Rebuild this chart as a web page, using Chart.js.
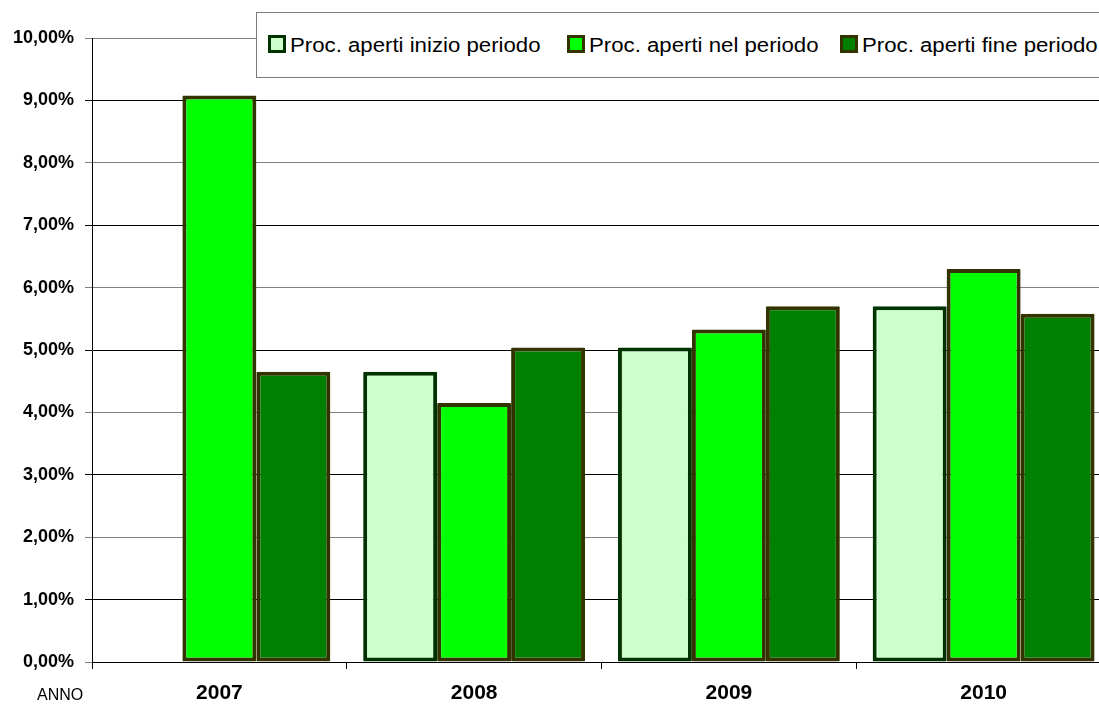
<!DOCTYPE html>
<html>
<head>
<meta charset="utf-8">
<script src="https://cdn.jsdelivr.net/npm/chart.js@4"></script>
<style>
  html, body { margin: 0; padding: 0; background: #fff; overflow: hidden; width: 1099px; height: 706px; }
  #wrap { position: absolute; left: 0; top: 0; width: 1112px; height: 706px; }
  #legend { position: absolute; left: 256px; top: 12px; width: 880px; height: 66px; border: 1px solid #7a7a7a; background: #fff; box-sizing: border-box; }
  .mk { position: absolute; top: 22px; width: 18px; height: 18px; box-sizing: border-box; border: 3px solid #333300; }
  .tx { position: absolute; top: 21px; font-family: "Liberation Sans", Arial, sans-serif; font-size: 20px; line-height: 22px; color: #000; white-space: nowrap; transform: scaleX(1.11); transform-origin: 0 0; }
  #anno { position: absolute; left: 37px; top: 685px; font-family: "Liberation Sans", Arial, sans-serif; font-size: 16px; line-height: 20px; color: #000; }
</style>
</head>
<body>
<div id="wrap"><canvas id="c" width="1112" height="706"></canvas></div>
<div id="legend"></div>
<div id="anno">ANNO</div>
<script>
const categories = ['2007', '2008', '2009', '2010'];
const seriesNames = ['Proc. aperti inizio periodo', 'Proc. aperti nel periodo', 'Proc. aperti fine periodo'];
const inizioPeriodo = [null, 4.65, 5.04, 5.70];
const nelPeriodo = [9.08, 4.15, 5.33, 6.30];
const finePeriodo = [4.65, 5.04, 5.70, 5.58];
const yTickLabels = ['0,00%', '1,00%', '2,00%', '3,00%', '4,00%', '5,00%', '6,00%', '7,00%', '8,00%', '9,00%', '10,00%'];

const fills = ['#CCFFCC', '#00FF00', '#008000'];
const borders = ['#003300', '#333300', '#333300'];
const seriesData = [inizioPeriodo, nelPeriodo, finePeriodo];

const datasets = seriesData.map((d, i) => ({
  label: seriesNames[i],
  data: d,
  backgroundColor: fills[i],
  borderColor: borders[i],
  borderWidth: 4,
  borderSkipped: false,
  borderRadius: 1,
  categoryPercentage: 0.871,
  barPercentage: 1.0
}));

// HTML legend
const legendPos = [{m: 11, t: 33}, {m: 310, t: 332}, {m: 583, t: 605}];
const lg = document.getElementById('legend');
seriesNames.forEach((n, i) => {
  const mk = document.createElement('div');
  mk.className = 'mk';
  mk.style.left = legendPos[i].m + 'px';
  mk.style.background = fills[i];
  mk.style.borderColor = borders[i];
  lg.appendChild(mk);
  const tx = document.createElement('div');
  tx.className = 'tx';
  tx.style.left = legendPos[i].t + 'px';
  tx.textContent = n;
  lg.appendChild(tx);
});

new Chart(document.getElementById('c'), {
  type: 'bar',
  data: { labels: categories, datasets },
  options: {
    responsive: false,
    devicePixelRatio: 1,
    animation: false,
    layout: { padding: { top: 38, right: 1, left: 0, bottom: 0 } },
    plugins: { legend: { display: false }, tooltip: { enabled: false } },
    scales: {
      x: {
        grid: { display: true, drawOnChartArea: false, drawTicks: true, tickLength: 7, color: '#000', offset: true },
        border: { display: true, color: '#000', width: 1 },
        ticks: { color: '#000', font: { family: 'Liberation Sans', size: 21, weight: 'bold' }, padding: 12, maxRotation: 0 },
        afterFit: (s) => { s.height = 44; }
      },
      y: {
        min: 0, max: 10,
        ticks: {
          stepSize: 1,
          color: '#000',
          font: { family: 'Liberation Sans', size: 18, weight: 'bold' },
          padding: 11,
          callback: (v) => yTickLabels[Math.round(v)]
        },
        grid: {
          color: (ctx) => (ctx.index % 2 === 1 ? '#000000' : '#808080'),
          lineWidth: 1,
          tickLength: 7,
          drawTicks: true
        },
        border: { display: true, color: '#000', width: 1 },
        afterFit: (s) => { s.width = 92; }
      }
    }
  }
});
</script>
</body>
</html>
